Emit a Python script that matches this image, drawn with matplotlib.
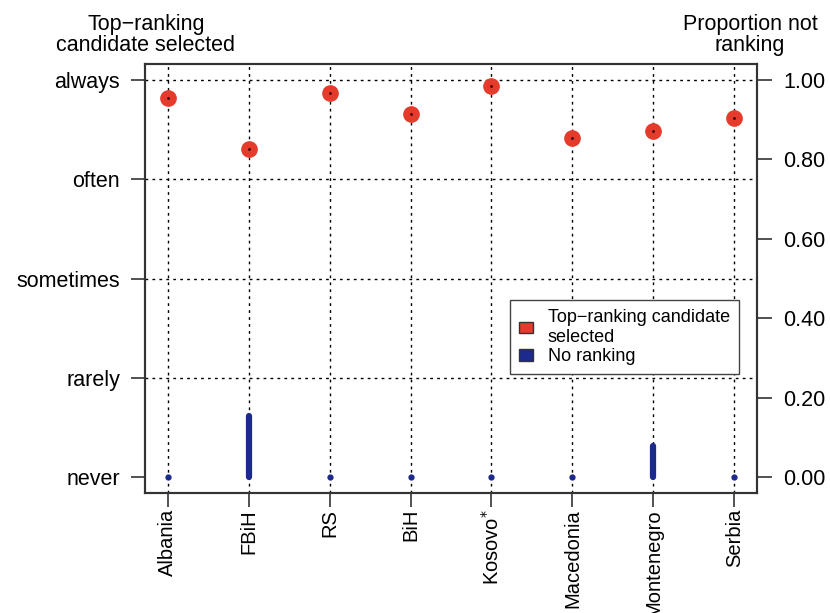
import matplotlib
matplotlib.use("Agg")
import matplotlib.pyplot as plt
from matplotlib.patches import Patch

countries = ["Albania", "FBiH", "RS", "BiH", "Kosovo$^{*}$", "Macedonia", "Montenegro", "Serbia"]
top_selected = [0.955, 0.825, 0.968, 0.915, 0.985, 0.854, 0.871, 0.904]
no_ranking = [0.0, 0.155, 0.0, 0.0, 0.0, 0.0, 0.078, 0.0]
left_ticks = [0, 0.25, 0.5, 0.75, 1.0]
left_labels = ["never", "rarely", "sometimes", "often", "always"]
right_ticks = [0, 0.2, 0.4, 0.6, 0.8, 1.0]
right_labels = ["0.00", "0.20", "0.40", "0.60", "0.80", "1.00"]

plt.rcParams['font.family'] = ['Liberation Sans', 'DejaVu Sans']
fig = plt.figure(figsize=(8.3, 6.13), dpi=100)
L, R, T, B = 145, 757, 64, 493
ax = fig.add_axes([L/830, 1-B/613, (R-L)/830, (B-T)/613])

RED = "#E53B2C"
BLUE = "#1B2A8C"
x = list(range(1, len(countries) + 1))

# grid
for xi in x:
    ax.axvline(xi, color="black", ls=(0, (2, 3)), lw=1.0, zorder=1)
for yt in left_ticks[1:]:
    ax.axhline(yt, color="black", ls=(0, (2, 3)), lw=1.0, zorder=1)

# no ranking bars
for xi, v in zip(x, no_ranking):
    if v > 0:
        ax.plot([xi, xi], [0, v], color=BLUE, lw=4.5, solid_capstyle="round", zorder=3)
    else:
        ax.plot([xi], [v], "o", color=BLUE, ms=3.5, zorder=3)

ax.plot(x, top_selected, "o", color=RED, ms=11, mec=RED, zorder=4)
ax.plot(x, top_selected, ".", color="#400000", ms=2, zorder=5)

FS = 15.5
ax.set_xlim(0.72, 8.28)
ax.set_ylim(-0.04, 1.04)
ax.set_xticks(x)
ax.set_xticklabels(countries, rotation=90, fontsize=14.5)
ax.set_yticks(left_ticks)
ax.set_yticklabels(left_labels, fontsize=FS)
ax.tick_params(axis="y", length=10, width=1.2, color="#333333", pad=8)
ax.tick_params(axis="x", length=10, width=1.2, color="#333333", pad=1.5)

ax2 = ax.twinx()
ax2.set_ylim(-0.04, 1.04)
ax2.set_yticks(right_ticks)
ax2.set_yticklabels(right_labels, fontsize=FS)
ax2.tick_params(axis="y", length=11, width=1.2, color="#333333", pad=8)

for a in (ax, ax2):
    for s in a.spines.values():
        s.set_color("#333333")
        s.set_linewidth(1.5)

fig.text(146/830, 1-35/613, "Top\u2212ranking\ncandidate selected", ha="center", va="center",
         fontsize=FS, linespacing=1.05)
fig.text(750/830, 1-35/613, "Proportion not\nranking", ha="center", va="center",
         fontsize=FS, linespacing=1.05)

handles = [Patch(facecolor=RED, edgecolor="#333333", label="Top\u2212ranking candidate\nselected"),
           Patch(facecolor=BLUE, edgecolor="#333333", label="No ranking")]
leg = ax.legend(handles=handles, loc="upper left", bbox_to_anchor=((510-L)/(R-L), (B-300)/(B-T)),
                fontsize=13, frameon=True, fancybox=False, handlelength=0.8, handleheight=0.6,
                borderpad=0.5, labelspacing=0.15, handletextpad=0.8, framealpha=1,
                borderaxespad=0)
leg.get_frame().set_edgecolor("#444444")
leg.get_frame().set_linewidth(1.0)

fig.savefig("out.png", dpi=100)
